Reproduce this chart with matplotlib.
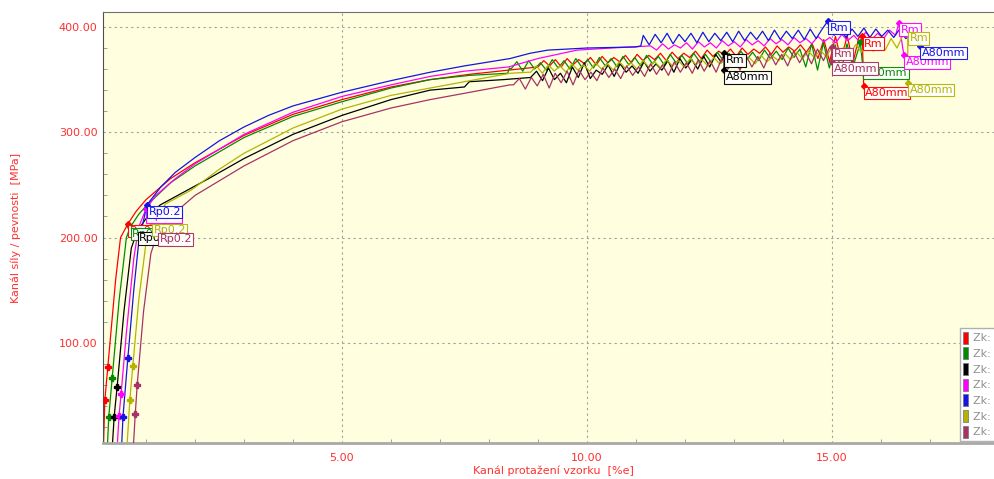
import numpy as np
import matplotlib
matplotlib.use('Agg')
import matplotlib.pyplot as plt
from matplotlib.ticker import MultipleLocator, FormatStrFormatter
from matplotlib.patches import Patch

# colours of the seven specimens (Zk)
colors = ['#FF0000', '#008C00', '#000000', '#FF00FF', '#1414E6', '#B4B400', '#A83264']
names = ['Zk: 1', 'Zk: 2', 'Zk: 3', 'Zk: 4', 'Zk: 5', 'Zk: 6', 'Zk: 7']

# smooth part of each curve (strain %, stress MPa)
red_x = [0.13, 0.16, 0.22, 0.38, 0.48, 0.63, 0.8, 1.0, 1.5, 2.0, 3.0, 4.0, 5.0, 6.0, 6.8, 7.6, 8.4]
red_y = [0, 46, 77, 160, 200, 213, 225, 236, 256, 271, 297, 317, 331, 343, 350, 355, 359]
green_x = [0.21, 0.24, 0.31, 0.45, 0.6, 0.68, 0.85, 1.0, 1.5, 2.0, 3.0, 4.0, 5.0, 6.0, 6.8, 7.6, 8.38, 8.42]
green_y = [0, 30, 67, 140, 200, 210, 222, 230, 252, 268, 295, 315, 329, 342, 350, 354, 356, 361]
black_x = [0.31, 0.35, 0.41, 0.55, 0.7, 0.82, 1.0, 1.29, 2.24, 3.0, 4.0, 5.0, 6.0, 6.8, 7.5, 7.6, 8.3]
black_y = [0, 30, 58, 130, 190, 206, 218, 231, 255, 275, 298, 316, 331, 340, 343, 348, 350]
magenta_x = [0.41, 0.45, 0.49, 0.6, 0.75, 0.85, 1.0, 1.2, 1.6, 2.0, 3.0, 4.0, 5.0, 6.0, 6.8, 7.5, 8.4, 9.0, 9.8, 10.5]
magenta_y = [0, 31, 51, 110, 180, 210, 227, 240, 256, 270, 298, 319, 334, 345, 353, 358, 362, 370, 378, 380]
blue_x = [0.5, 0.53, 0.63, 0.75, 0.85, 1.02, 1.3, 1.6, 2.0, 2.5, 3.0, 3.5, 4.0, 5.0, 6.0, 6.8, 7.5, 8.43, 8.84, 9.2, 10.0, 11.0, 11.1]
blue_y = [0, 30, 86, 150, 195, 231, 248, 262, 276, 292, 305, 316, 325, 338, 349, 357, 363, 370, 375, 378, 380, 381, 382]
olive_x = [0.61, 0.67, 0.73, 0.85, 1.0, 1.12, 1.4, 1.92, 2.5, 3.0, 4.0, 5.0, 6.0, 6.8, 7.5, 8.43, 8.8]
olive_y = [0, 46, 78, 140, 195, 214, 232, 245, 265, 280, 304, 322, 335, 342, 348, 356, 357]
maroon_x = [0.74, 0.78, 0.82, 0.95, 1.1, 1.24, 1.5, 2.0, 3.0, 4.0, 5.0, 6.0, 6.8, 7.5, 8.43]
maroon_y = [0, 32, 60, 130, 185, 205, 220, 240, 268, 292, 310, 323, 331, 337, 345]

# serrated part: start, end and stress values read at even strain steps
red_serr = (9.0, 15.55, [362, 368, 363, 369, 362, 370, 364, 369, 365, 371, 364, 372, 366, 371, 367, 373,
                         366, 374, 368, 373, 369, 375, 368, 376, 370, 375, 371, 377, 370, 378, 372, 377,
                         373, 379, 372, 380, 374, 379, 375, 381, 374, 382, 376, 381, 377, 383, 376, 384,
                         370, 388, 367, 391, 368, 392, 366, 390])
green_serr = (8.45, 15.55, [360, 367, 358, 368, 360, 366, 359, 369, 361, 368, 360, 370, 362, 369, 361, 371,
                            363, 370, 362, 372, 364, 371, 363, 373, 365, 372, 364, 374, 366, 373, 365, 375,
                            367, 374, 366, 376, 368, 375, 367, 377, 369, 376, 368, 378, 370, 377, 369, 380,
                            371, 379, 362, 384, 359, 385, 361, 383, 358, 384, 362, 380])
black_serr = (8.85, 12.75, [352, 358, 349, 361, 350, 356, 347, 362, 352, 366, 351, 359, 355, 364, 353, 365,
                            357, 363, 356, 367, 358, 365, 359, 368, 357, 370, 361, 369, 360, 372, 362, 374, 366])
magenta_serr = (11.3, 16.3, [382, 378, 384, 379, 383, 380, 385, 379, 386, 381, 385, 380, 387, 382, 386, 381,
                             388, 383, 387, 382, 389, 384, 388, 383, 390, 385, 389, 384, 391, 386, 390, 385,
                             393, 387, 392, 386, 395, 388, 394, 389, 397, 392])
blue_serr = (11.15, 16.75, [392, 383, 393, 385, 394, 384, 393, 386, 394, 385, 395, 386, 394, 387, 395, 386,
                            396, 387, 395, 388, 396, 387, 397, 388, 396, 389, 397, 388, 398, 389, 398, 406,
                            392, 399, 390, 398, 391, 399, 390, 398, 391, 397, 390, 398, 389, 392, 386])
olive_serr = (8.85, 16.45, [357, 363, 356, 364, 358, 363, 357, 365, 359, 364, 358, 366, 360, 365, 359, 367,
                            361, 366, 360, 368, 362, 367, 361, 369, 363, 368, 362, 370, 364, 369, 363, 371,
                            365, 370, 364, 372, 366, 371, 365, 373, 367, 372, 368, 375, 369, 376, 370, 377,
                            371, 378, 372, 380, 373, 381, 374, 383, 376, 385, 377, 387, 378, 389, 380, 392])
maroon_serr = (8.5, 14.95, [345, 351, 341, 352, 344, 355, 342, 356, 347, 358, 345, 359, 350, 357, 349, 361,
                            352, 360, 351, 363, 354, 362, 353, 365, 355, 364, 354, 367, 357, 366, 356, 369,
                            358, 368, 357, 371, 360, 370, 359, 373, 362, 372, 361, 375, 364, 374, 363, 377,
                            366, 376, 365, 379, 368, 380])

# modulus points on the elastic part
mod_lo_x = [0.16, 0.24, 0.35, 0.45, 0.53, 0.67, 0.78]
mod_lo_y = [46, 30, 30, 31, 30, 46, 32]
mod_hi_x = [0.22, 0.31, 0.41, 0.49, 0.63, 0.73, 0.82]
mod_hi_y = [77, 67, 58, 51, 86, 78, 60]
# Rp0.2, Rm and A80mm points
rp_x = [0.63, 0.68, 0.82, 1.0, 1.02, 1.12, 1.24]
rp_y = [213, 210, 206, 227, 231, 214, 205]
rm_x = [15.62, 15.58, 12.8, 16.37, 14.92, 16.55, 15.0]
rm_y = [391, 386, 375, 404, 406, 396, 381]
rm_shown = [True, False, True, True, True, True, True]
a80_x = [15.65, 15.63, 12.8, 16.47, 16.8, 16.55, 15.0]
a80_y = [344, 363, 359, 373, 382, 347, 367]

smooth = [(red_x, red_y), (green_x, green_y), (black_x, black_y), (magenta_x, magenta_y),
          (blue_x, blue_y), (olive_x, olive_y), (maroon_x, maroon_y)]
serr = [red_serr, green_serr, black_serr, magenta_serr, blue_serr, olive_serr, maroon_serr]

fig = plt.figure(figsize=(9.94, 4.79), dpi=100)
ax = fig.add_axes([103 / 994, 36 / 479, 891 / 994, 431 / 479])
ax.set_facecolor('#FFFFE0')


def tag(x, y, text, color, z):
    ax.annotate(text, (x, y), xytext=(1.2, -1.5), textcoords='offset points', ha='left', va='top',
                fontsize=8, color=color, zorder=z,
                bbox=dict(boxstyle='square,pad=0.12', fc='white', ec=color, lw=0.8, alpha=0.95))


for i, c in enumerate(colors):
    sx, sy = smooth[i]
    s0, s1, vals = serr[i]
    xs = list(sx) + list(np.linspace(s0, s1, len(vals)))
    ys = list(sy) + list(vals)
    if rm_x[i] > s1:
        xs.append(rm_x[i])
        ys.append(rm_y[i])
    xs.append(a80_x[i])
    ys.append(a80_y[i])
    ax.plot(xs, ys, color=c, lw=0.9, zorder=2 + i * 0.1)
    ax.plot([mod_lo_x[i], mod_hi_x[i]], [mod_lo_y[i], mod_hi_y[i]], ls='none', marker='P',
            ms=4, color=c, zorder=3)
    ax.plot([rp_x[i], rm_x[i], a80_x[i]], [rp_y[i], rm_y[i], a80_y[i]], ls='none', marker='D',
            ms=3, color=c, zorder=3)

for i, c in enumerate(colors):
    tag(rp_x[i], rp_y[i], 'Rp0.2', c, 10 + i)
    if rm_shown[i]:
        tag(rm_x[i], rm_y[i], 'Rm', c, 10 + i)
    tag(a80_x[i], a80_y[i], 'A80mm', c, 20 + i)

ax.set_xlim(0.122, 18.31)
ax.set_ylim(4.9, 414.2)
ax.xaxis.set_major_locator(MultipleLocator(5))
ax.yaxis.set_major_locator(MultipleLocator(100))
ax.xaxis.set_minor_locator(MultipleLocator(1))
ax.yaxis.set_minor_locator(MultipleLocator(20))
ax.xaxis.set_major_formatter(FormatStrFormatter('%.2f'))
ax.yaxis.set_major_formatter(FormatStrFormatter('%.2f'))
ax.tick_params(which='major', length=0, labelsize=8, labelcolor='#FF3030', pad=4)
ax.tick_params(axis='x', which='major', pad=7)
ax.tick_params(which='minor', direction='in', length=3, color='#909090')
ax.grid(True, which='major', color='#A0A0A0', ls=(0, (2, 3)), lw=0.8)
ax.set_axisbelow(True)
ax.spines['right'].set_visible(False)
ax.spines['top'].set_color('#707070')
ax.spines['left'].set_color('#505050')
ax.spines['bottom'].set_color('#A8A8A8')
ax.spines['bottom'].set_linewidth(2)

fig.text(0.016, 0.525, 'Kanál síly / pevnosti  [MPa]', rotation=90, ha='center', va='center',
         fontsize=8, color='#FF3030')
fig.text(0.557, 0.018, 'Kanál protažení vzorku  [%e]', ha='center', va='center',
         fontsize=8, color='#FF3030')

handles = [Patch(facecolor=c, edgecolor='#707070', lw=0.5) for c in colors]
leg = ax.legend(handles, names, loc='lower left', bbox_to_anchor=(960 / 994, 38 / 479),
                bbox_transform=fig.transFigure, fontsize=8, handlelength=0.45, handleheight=1.3,
                handletextpad=0.4, labelspacing=0.32, borderpad=0.3, borderaxespad=0,
                fancybox=False, framealpha=1, edgecolor='#B0B0B0')
for t in leg.get_texts():
    t.set_color('#909090')
leg.set_zorder(30)

fig.savefig('out.png', dpi=100)
